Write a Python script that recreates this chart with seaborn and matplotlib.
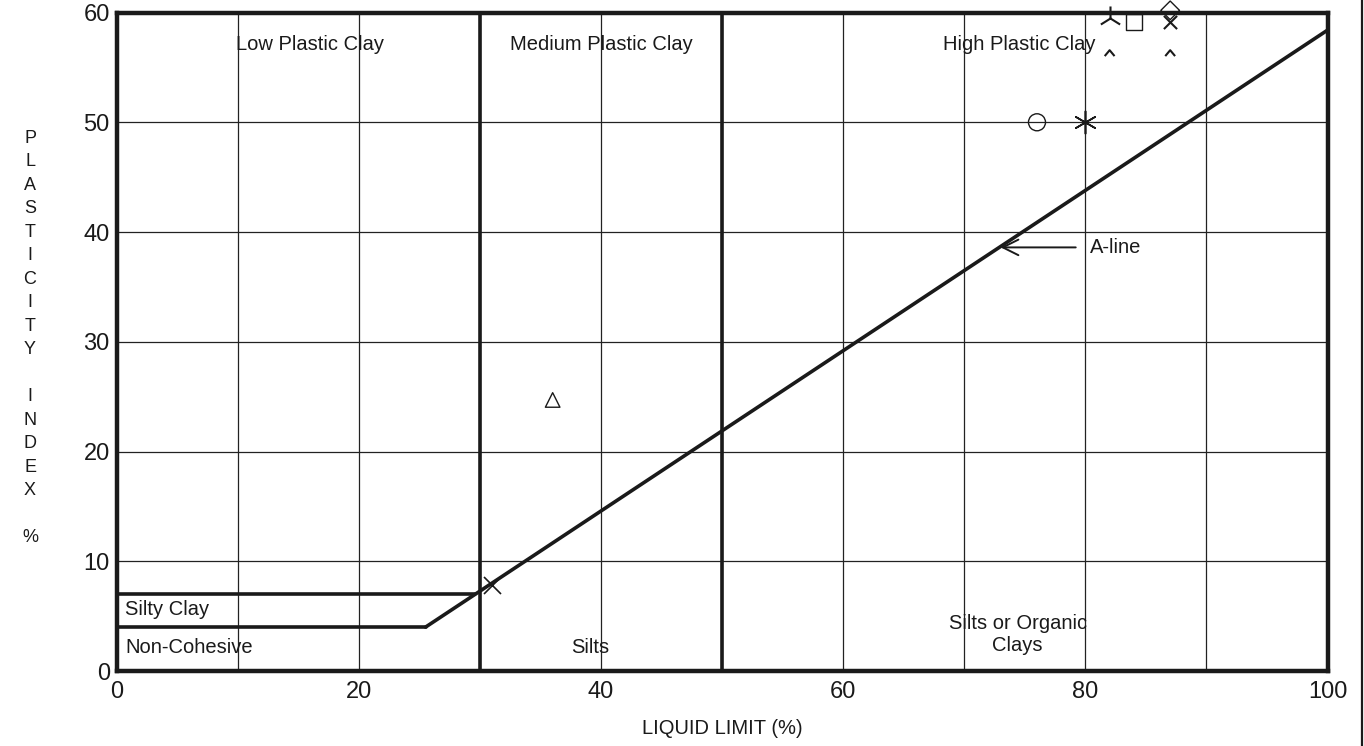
import numpy as np
import matplotlib
matplotlib.use("Agg")
import matplotlib.pyplot as plt
import seaborn as sns
from matplotlib.path import Path
from matplotlib.lines import Line2D

sns.set_theme(style="white")
plt.rcParams["font.family"] = ["Liberation Sans", "DejaVu Sans"]
plt.rcParams["text.color"] = "k"
plt.rcParams["xtick.color"] = "k"
plt.rcParams["ytick.color"] = "k"
plt.rcParams["axes.labelcolor"] = "k"

# ==========================
# DATA
# ==========================
# A-line (PI = 0.73*(LL-20)), from the kink to the right edge
aline_ll = [25.5, 100]
aline_pi = [4.0, 58.4]

# silty clay / non-cohesive boundaries
silty_ll = [0, 29.6]
silty_pi = [7, 7]
noncoh_ll = [0, 25.5]
noncoh_pi = [4, 4]

# vertical plastic limits
ll_bounds = [30, 50]

# test points
sample_ll = [31, 36, 76, 80, 82, 82, 84, 87, 87, 87]
sample_pi = [7.8, 24.7, 50, 50, 59.5, 56.3, 59.1, 60.2, 59.1, 56.3]

x_ticks = [0, 20, 40, 60, 80, 100]
y_ticks = [0, 10, 20, 30, 40, 50, 60]

# marker styles (one per test point)
caret = Path([(-1, -0.6), (0, 0.6), (1, -0.6)],
             [Path.MOVETO, Path.LINETO, Path.LINETO])
styles = [
    dict(marker="x", s=150, color="k", linewidths=1.2),
    dict(marker="^", s=110, facecolor="none", edgecolor="k", linewidths=1.0),
    dict(marker="o", s=150, facecolor="none", edgecolor="k", linewidths=1.0),
    dict(marker=(6, 2, 0), s=260, color="k", linewidths=1.2),
    dict(marker="2", s=300, color="k", linewidths=1.5),
    dict(marker=caret, s=50, facecolor="none", edgecolor="k", linewidths=1.5),
    dict(marker="s", s=130, facecolor="none", edgecolor="k", linewidths=1.0),
    dict(marker="D", s=90, facecolor="none", edgecolor="k", linewidths=1.0),
    dict(marker="x", s=90, color="k", linewidths=1.5),
    dict(marker=caret, s=50, facecolor="none", edgecolor="k", linewidths=1.5),
]

# ==========================
# PLOT
# ==========================
fig = plt.figure(figsize=(13.64, 7.46), dpi=100)
ax = fig.add_axes([0.0856, 0.1005, 0.8877, 0.8827])

ax.set_xlim(0, 100)
ax.set_ylim(0, 60)
ax.set_xticks(x_ticks)
ax.set_xticks(np.arange(0, 101, 10), minor=True)
ax.set_yticks(y_ticks)
ax.grid(True, color="#222222", linewidth=0.9)
ax.grid(True, which="minor", axis="x", color="#222222", linewidth=0.9)
ax.tick_params(which="both", length=0, labelsize=17, pad=5)
ax.tick_params(axis="x", pad=7)
for sp in ax.spines.values():
    sp.set_linewidth(3.2)
    sp.set_color("k")

for xb in ll_bounds:
    ax.axvline(xb, color="k", linewidth=2.6, zorder=3)

for lx, ly in [(aline_ll, aline_pi), (silty_ll, silty_pi), (noncoh_ll, noncoh_pi)]:
    sns.lineplot(x=lx, y=ly, ax=ax, color="k", linewidth=2.6,
                 sort=False, estimator=None, zorder=4)

for xv, yv, st in zip(sample_ll, sample_pi, styles):
    sns.scatterplot(x=[xv], y=[yv], ax=ax, clip_on=False, zorder=6, **st)

# region labels
lbl = dict(fontsize=14.5, color="k", zorder=5)
ax.text(16, 57.1, "Low Plastic Clay", ha="center", va="center", **lbl)
ax.text(40, 57.1, "Medium Plastic Clay", ha="center", va="center", **lbl)
ax.text(74.5, 57.1, "High Plastic Clay", ha="center", va="center", **lbl)
ax.text(0.7, 5.6, "Silty Clay", ha="left", va="center", **lbl)
ax.text(0.7, 2.1, "Non-Cohesive", ha="left", va="center", **lbl)
ax.text(39.1, 2.1, "Silts", ha="center", va="center", **lbl)
ax.text(74.4, 3.3, "Silts or Organic\nClays", ha="center", va="center",
        linespacing=1.2, **lbl)

# A-line pointer
ax.annotate("", xy=(73.0, 38.6), xytext=(79.2, 38.6),
            arrowprops=dict(arrowstyle="->", color="k", lw=1.4,
                            mutation_scale=28, shrinkA=0, shrinkB=0))
ax.text(80.4, 38.6, "A-line", ha="left", va="center", **lbl)

ax.set_xlabel("LIQUID LIMIT (%)", fontsize=14.5, labelpad=12)
ax.set_ylabel("")

ylab = list("PLASTICITY") + [""] + list("INDEX") + [""] + ["%"]
fig.text(0.022, 0.547, "\n".join(ylab), ha="center", va="center",
         fontsize=13, linespacing=1.5)

fig.add_artist(Line2D([0.9983, 0.9983], [0, 1], color="k", linewidth=1.6))

plt.savefig("out.png", dpi=100)
